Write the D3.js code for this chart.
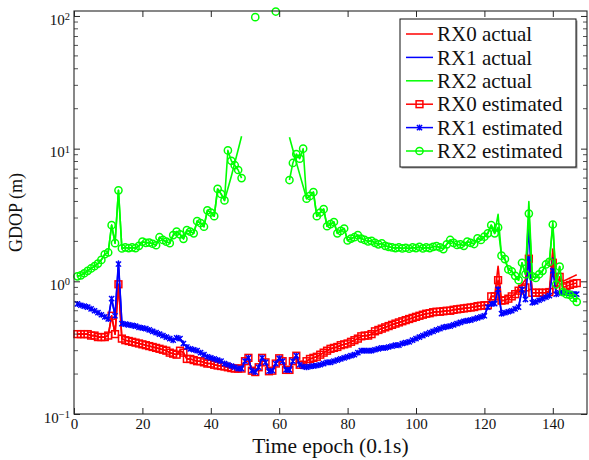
<!DOCTYPE html>
<html>
<head>
<meta charset="utf-8">
<script src="https://cdn.jsdelivr.net/npm/d3@7"></script>
<style>
  body { margin: 0; background: #fff; overflow: hidden; }
  svg { display: block; }
</style>
</head>
<body>
<div id="chart"></div>
<script>
// epochs 1..147 (0.1 s each)
const epochs = d3.range(1, 148);

// RX0 estimated
const rx0Est = [
  0.40,0.40,0.40,0.40,0.39,0.39,0.38,0.38,0.38,0.39,
  0.55,0.40,0.95,0.37,0.36,0.355,0.35,0.345,0.34,0.335,
  0.33,0.325,0.32,0.315,0.31,0.305,0.30,0.29,0.285,0.28,
  0.30,0.29,0.26,0.26,0.255,0.25,0.25,0.245,0.24,0.24,
  0.235,0.232,0.23,0.228,0.225,0.222,0.22,0.22,0.22,0.25,
  0.265,0.212,0.207,0.225,0.265,0.245,0.21,0.212,0.24,0.263,
  0.25,0.215,0.215,0.25,0.275,0.235,0.235,0.25,0.26,0.265,
  0.27,0.28,0.29,0.30,0.31,0.315,0.32,0.33,0.335,0.34,
  0.35,0.36,0.37,0.385,0.39,0.39,0.40,0.42,0.43,0.44,
  0.45,0.46,0.47,0.48,0.49,0.50,0.51,0.52,0.53,0.54,
  0.55,0.56,0.57,0.575,0.585,0.59,0.59,0.595,0.60,0.60,
  0.61,0.615,0.62,0.625,0.63,0.635,0.64,0.65,0.655,0.66,
  0.66,0.77,0.77,1.02,0.715,0.72,0.74,0.77,0.80,0.85,
  0.88,0.90,1.48,0.82,0.82,0.82,0.82,0.82,0.83,1.38,
  0.87,1.08,0.90,0.92,0.94,0.96,0.97
];
// RX0 actual
const rx0Act = [
  0.40,0.40,0.40,0.40,0.39,0.39,0.38,0.38,0.38,0.39,
  0.55,0.40,0.95,0.37,0.36,0.355,0.35,0.345,0.34,0.335,
  0.33,0.325,0.32,0.315,0.31,0.305,0.30,0.29,0.285,0.28,
  0.30,0.29,0.26,0.26,0.255,0.25,0.25,0.245,0.24,0.24,
  0.235,0.232,0.23,0.228,0.225,0.222,0.22,0.22,0.22,0.25,
  0.265,0.212,0.207,0.225,0.265,0.245,0.21,0.212,0.24,0.263,
  0.25,0.215,0.215,0.25,0.275,0.235,0.235,0.25,0.26,0.265,
  0.27,0.28,0.29,0.30,0.31,0.315,0.32,0.33,0.335,0.34,
  0.35,0.36,0.37,0.385,0.39,0.39,0.40,0.42,0.43,0.44,
  0.45,0.46,0.47,0.48,0.49,0.50,0.51,0.52,0.53,0.54,
  0.55,0.56,0.57,0.575,0.585,0.59,0.59,0.595,0.60,0.60,
  0.61,0.615,0.62,0.625,0.63,0.635,0.64,0.65,0.655,0.66,
  0.66,0.77,0.77,1.30,0.715,0.72,0.74,0.77,0.80,0.90,
  0.95,1.03,1.55,0.82,0.82,0.82,0.82,0.82,0.85,1.75,
  0.95,1.00,1.00,1.03,1.06,1.09,1.12
];
// RX1 estimated
const rx1Est = [
  0.675,0.66,0.65,0.64,0.62,0.60,0.58,0.56,0.54,0.52,
  0.74,0.55,1.35,0.48,0.475,0.47,0.465,0.46,0.45,0.445,
  0.44,0.43,0.42,0.41,0.40,0.39,0.38,0.37,0.36,0.375,
  0.37,0.34,0.32,0.31,0.305,0.30,0.29,0.28,0.27,0.265,
  0.26,0.255,0.25,0.24,0.235,0.23,0.225,0.22,0.22,0.25,
  0.265,0.212,0.207,0.225,0.265,0.245,0.21,0.212,0.24,0.263,
  0.25,0.215,0.215,0.25,0.275,0.235,0.228,0.225,0.228,0.23,
  0.232,0.235,0.24,0.245,0.245,0.25,0.255,0.26,0.265,0.27,
  0.275,0.28,0.29,0.30,0.30,0.30,0.30,0.305,0.31,0.315,
  0.315,0.32,0.325,0.33,0.33,0.34,0.345,0.35,0.36,0.37,
  0.38,0.39,0.40,0.41,0.42,0.43,0.44,0.45,0.455,0.46,
  0.47,0.48,0.49,0.50,0.505,0.51,0.52,0.53,0.54,0.55,
  0.64,0.675,0.68,0.87,0.57,0.58,0.59,0.60,0.62,0.64,
  0.87,0.73,1.48,0.69,0.70,0.72,0.74,0.76,0.78,1.20,
  0.80,0.82,0.82,0.82,0.81,0.80,0.80
];
// RX1 actual
const rx1Act = [
  0.675,0.66,0.65,0.64,0.62,0.60,0.58,0.56,0.54,0.52,
  0.74,0.55,1.42,0.48,0.475,0.47,0.465,0.46,0.45,0.445,
  0.44,0.43,0.42,0.41,0.40,0.39,0.38,0.37,0.36,0.375,
  0.37,0.34,0.32,0.31,0.305,0.30,0.29,0.28,0.27,0.265,
  0.26,0.255,0.25,0.24,0.235,0.23,0.225,0.22,0.22,0.25,
  0.265,0.212,0.207,0.225,0.265,0.245,0.21,0.212,0.24,0.263,
  0.25,0.215,0.215,0.25,0.275,0.235,0.228,0.225,0.228,0.23,
  0.232,0.235,0.24,0.245,0.245,0.25,0.255,0.26,0.265,0.27,
  0.275,0.28,0.29,0.30,0.30,0.30,0.30,0.305,0.31,0.315,
  0.315,0.32,0.325,0.33,0.33,0.34,0.345,0.35,0.36,0.37,
  0.38,0.39,0.40,0.41,0.42,0.43,0.44,0.45,0.455,0.46,
  0.47,0.48,0.49,0.50,0.505,0.51,0.52,0.53,0.54,0.55,
  0.64,0.675,0.68,0.90,0.57,0.58,0.59,0.60,0.62,0.64,
  0.87,0.73,2.73,0.69,0.70,0.72,0.74,0.76,0.78,1.50,
  0.80,0.82,0.82,0.82,0.81,0.80,0.80
];
// RX2 estimated (null = no fix)
const rx2Est = [
  1.09,1.11,1.15,1.20,1.25,1.30,1.36,1.45,1.60,1.65,
  2.65,1.94,4.85,1.77,1.80,1.78,1.80,1.78,1.85,1.99,
  1.95,1.96,1.92,1.87,2.15,2.05,1.99,1.94,2.23,2.37,
  2.26,2.09,2.43,2.37,2.30,2.84,2.75,2.58,3.43,3.30,
  3.10,4.97,4.56,4.07,9.7,8.1,7.5,6.9,6.0,null,
  null,null,98,null,null,null,null,null,108,null,
  null,null,5.8,7.8,9.1,8.4,10.0,4.2,4.4,4.7,
  3.1,3.3,3.5,2.6,2.7,2.8,2.3,2.4,2.5,2.03,
  2.1,2.15,2.23,2.1,2.05,2.0,2.02,1.95,1.9,1.93,
  1.85,1.82,1.80,1.78,1.80,1.77,1.79,1.76,1.80,1.78,
  1.82,1.77,1.80,1.78,1.82,1.84,1.80,1.75,1.90,2.05,
  1.95,1.88,1.90,1.85,1.99,1.95,1.91,2.11,2.05,2.17,
  2.30,2.65,2.30,2.55,1.56,1.47,1.23,1.19,1.10,1.02,
  1.38,1.13,3.24,1.09,1.06,1.13,1.20,1.34,1.40,2.68,
  0.95,1.29,0.83,0.80,0.79,0.75,0.70
];
// RX2 actual
const rx2Act = [
  1.09,1.11,1.15,1.20,1.25,1.30,1.36,1.45,1.60,1.65,
  2.65,1.94,4.85,1.77,1.80,1.78,1.80,1.78,1.85,1.99,
  1.95,1.96,1.92,1.87,2.15,2.05,1.99,1.94,2.23,2.37,
  2.26,2.09,2.43,2.37,2.30,2.84,2.75,2.58,3.43,3.30,
  3.10,4.97,4.56,4.07,5.0,6.2,7.8,9.8,12.4,null,
  null,null,null,null,null,null,null,null,null,null,
  null,null,12.2,9.8,7.9,6.4,5.2,4.2,4.4,4.7,
  3.1,3.3,3.5,2.6,2.7,2.8,2.3,2.4,2.5,2.03,
  2.1,2.15,2.23,2.1,2.05,2.0,2.02,1.95,1.9,1.93,
  1.85,1.82,1.80,1.78,1.80,1.77,1.79,1.76,1.80,1.78,
  1.82,1.77,1.80,1.78,1.82,1.84,1.80,1.75,1.90,2.05,
  1.95,1.88,1.90,1.85,1.99,1.95,1.91,2.11,2.05,2.17,
  2.30,2.65,2.30,3.20,1.56,1.47,1.23,1.19,1.10,1.02,
  1.38,1.13,4.00,1.09,1.06,1.13,1.20,1.34,1.40,2.80,
  0.95,1.29,0.83,0.80,0.79,0.75,0.70
];

const xTicks = [0, 20, 40, 60, 80, 100, 120, 140];
const yTicks = [0.1, 1, 10, 100];
const legendLabels = ['RX0 actual', 'RX1 actual', 'RX2 actual',
                      'RX0 estimated', 'RX1 estimated', 'RX2 estimated'];

// layout
const width = 589;
const height = 460;
const margin = {top: 11, right: 2, bottom: 46, left: 74};
const innerWidth = width - margin.left - margin.right;
const innerHeight = height - margin.top - margin.bottom;
const serif = `"Liberation Serif", "DejaVu Serif", serif`;
const red = '#ff0000', blue = '#0000ff', green = '#00ff00';
const frameColor = '#262626';

const xScale = d3.scaleLinear().domain([0, 150]).range([0, innerWidth]);
const yScale = d3.scaleLog().domain([0.1, 109]).range([innerHeight, 0]);

const svg = d3.select('#chart').append('svg')
    .attr('width', width)
    .attr('height', height)
    .style('font-family', serif);

const g = svg.append('g')
    .attr('transform', `translate(${margin.left},${margin.top})`);

g.append('clipPath').attr('id', 'clip')
  .append('rect')
    .attr('x', -6).attr('y', -6)
    .attr('width', innerWidth + 12).attr('height', innerHeight + 12);

const plot = g.append('g').attr('clip-path', 'url(#clip)');

const toPoints = arr => epochs.map((t, i) => ({t: t, v: arr[i]}));
const line = d3.line()
    .defined(d => d.v != null)
    .x(d => xScale(d.t))
    .y(d => yScale(d.v));

// marker drawing
const drawMark = (sel, type, color) => {
  if (type === 'square') {
    sel.append('rect')
      .attr('x', -3.4).attr('y', -3.4).attr('width', 6.8).attr('height', 6.8)
      .attr('fill', 'none').attr('stroke', color).attr('stroke-width', 1.5);
  } else if (type === 'circle') {
    sel.append('circle')
      .attr('r', 3.6)
      .attr('fill', 'none').attr('stroke', color).attr('stroke-width', 1.5);
  } else {
    sel.append('path')
      .attr('d', 'M-2.6,-2.6L2.6,2.6M-2.6,2.6L2.6,-2.6M0,-3L0,3')
      .attr('stroke', color).attr('stroke-width', 1.4).attr('fill', 'none');
  }
};

const series = [
  {data: rx0Act, color: red, mark: null},
  {data: rx1Act, color: blue, mark: null},
  {data: rx2Act, color: green, mark: null},
  {data: rx0Est, color: red, mark: 'square'},
  {data: rx1Est, color: blue, mark: 'cross'},
  {data: rx2Est, color: green, mark: 'circle'}
];

series.forEach(s => {
  const pts = toPoints(s.data);
  plot.append('path')
    .datum(pts)
    .attr('fill', 'none')
    .attr('stroke', s.color)
    .attr('stroke-width', 1.6)
    .attr('stroke-linejoin', 'round')
    .attr('d', line);
  if (s.mark) {
    plot.append('g').selectAll('g')
      .data(pts.filter(d => d.v != null))
      .enter().append('g')
        .attr('transform', d => `translate(${xScale(d.t)},${yScale(d.v)})`)
        .each(function () { drawMark(d3.select(this), s.mark, s.color); });
  }
});

// frame
g.append('rect')
  .attr('width', innerWidth).attr('height', innerHeight)
  .attr('fill', 'none').attr('stroke', frameColor).attr('stroke-width', 1.1);

// x axis (bottom) with inward ticks
const xAxis = g.append('g')
    .attr('transform', `translate(0,${innerHeight})`)
    .call(d3.axisBottom(xScale).tickValues(xTicks).tickSizeInner(-6).tickSizeOuter(0).tickPadding(4));
xAxis.select('.domain').remove();
xAxis.selectAll('.tick line').attr('stroke', frameColor);
xAxis.selectAll('.tick text')
    .style('font-family', serif).style('font-size', '15px').attr('fill', '#111');

// top ticks (no labels)
g.append('g')
    .call(d3.axisTop(xScale).tickValues(xTicks).tickSizeInner(-6).tickSizeOuter(0))
    .call(a => a.select('.domain').remove())
    .call(a => a.selectAll('.tick text').remove())
    .call(a => a.selectAll('.tick line').attr('stroke', frameColor));

// y axis (left) with 10^k labels
const yAxis = g.append('g')
    .call(d3.axisLeft(yScale).tickValues(yTicks).tickSizeInner(-6).tickSizeOuter(0).tickPadding(4));
yAxis.select('.domain').remove();
yAxis.selectAll('.tick line').attr('stroke', frameColor);
yAxis.selectAll('.tick text')
    .style('font-family', serif).style('font-size', '15px').attr('fill', '#111')
    .attr('dy', '0.55em')
    .each(function (d) {
      const t = d3.select(this);
      const e = Math.round(Math.log10(d));
      t.text(null);
      t.append('tspan').text('10');
      t.append('tspan').attr('dy', '-0.45em').style('font-size', '10.5px')
        .text(e < 0 ? '\u2212' + (-e) : String(e));
    });

// right major ticks (no labels)
g.append('g')
    .attr('transform', `translate(${innerWidth},0)`)
    .call(d3.axisRight(yScale).tickValues(yTicks).tickSizeInner(-6).tickSizeOuter(0))
    .call(a => a.select('.domain').remove())
    .call(a => a.selectAll('.tick text').remove())
    .call(a => a.selectAll('.tick line').attr('stroke', frameColor));

// minor ticks on both sides
const minorVals = [];
[0.1, 1, 10].forEach(base => d3.range(2, 10).forEach(k => minorVals.push(base * k)));
g.append('g').selectAll('line.minorL')
  .data(minorVals).enter().append('line')
    .attr('x1', 0).attr('x2', 4)
    .attr('y1', d => yScale(d)).attr('y2', d => yScale(d))
    .attr('stroke', frameColor).attr('stroke-width', 0.8);
g.append('g').selectAll('line.minorR')
  .data(minorVals).enter().append('line')
    .attr('x1', innerWidth - 4).attr('x2', innerWidth)
    .attr('y1', d => yScale(d)).attr('y2', d => yScale(d))
    .attr('stroke', frameColor).attr('stroke-width', 0.8);

// axis labels
svg.append('text')
    .attr('x', margin.left + innerWidth / 2)
    .attr('y', 453)
    .attr('text-anchor', 'middle')
    .style('font-size', '21.5px')
    .attr('fill', '#111')
    .text('Time epoch (0.1s)');

svg.append('text')
    .attr('transform', `translate(22,${margin.top + innerHeight / 2}) rotate(-90)`)
    .attr('text-anchor', 'middle')
    .style('font-size', '18px')
    .attr('fill', '#111')
    .text('GDOP (m)');

// legend
const legendX = 400, legendY = 19, legendW = 176, legendH = 148;
const legend = svg.append('g');
legend.append('rect')
    .attr('x', legendX + 1.5).attr('y', legendY + 1.5)
    .attr('width', legendW).attr('height', legendH)
    .attr('fill', '#999');
legend.append('rect')
    .attr('x', legendX).attr('y', legendY)
    .attr('width', legendW).attr('height', legendH)
    .attr('fill', '#fff').attr('stroke', '#111').attr('stroke-width', 1);

series.forEach((s, i) => {
  const cy = 34 + i * 23.4;
  const row = legend.append('g');
  row.append('line')
    .attr('x1', 406).attr('x2', 433)
    .attr('y1', cy).attr('y2', cy)
    .attr('stroke', s.color).attr('stroke-width', 1.5);
  if (s.mark) {
    drawMark(row.append('g').attr('transform', `translate(419.5,${cy})`), s.mark, s.color);
  }
  row.append('text')
    .attr('x', 437).attr('y', cy)
    .attr('dy', '0.34em')
    .style('font-size', '21px')
    .attr('fill', '#111')
    .text(legendLabels[i]);
});
</script>
</body>
</html>
